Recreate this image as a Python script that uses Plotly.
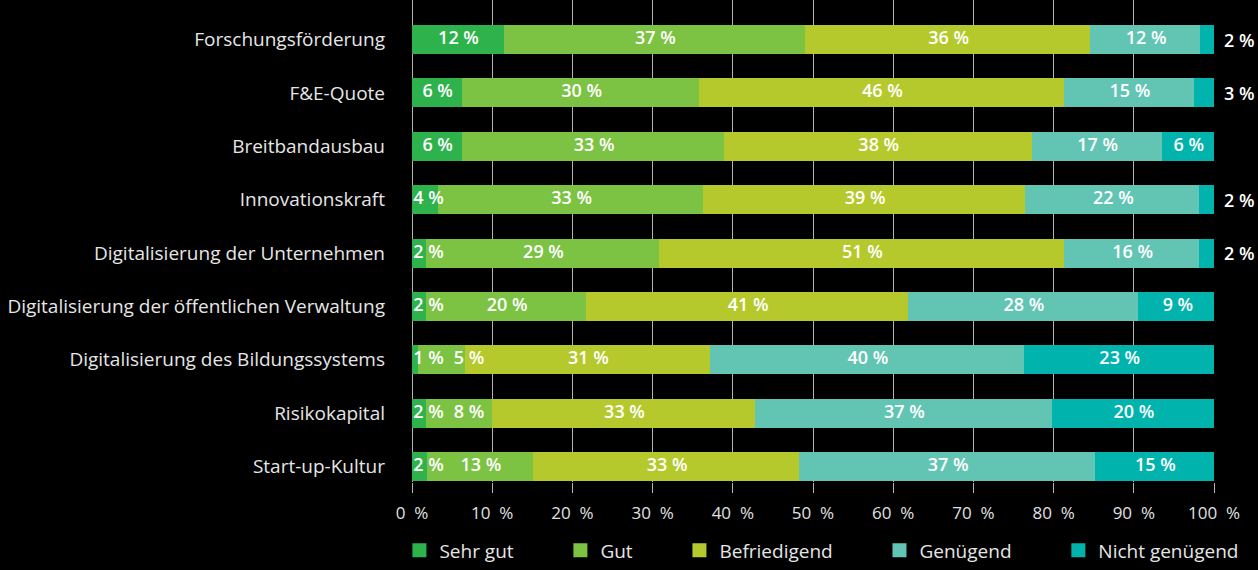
import plotly.graph_objects as go

categories = [
    "Forschungsförderung",
    "F&E-Quote",
    "Breitbandausbau",
    "Innovationskraft",
    "Digitalisierung der Unternehmen",
    "Digitalisierung der öffentlichen Verwaltung",
    "Digitalisierung des Bildungssystems",
    "Risikokapital",
    "Start-up-Kultur",
]

series_names = ["Sehr gut", "Gut", "Befriedigend", "Genügend", "Nicht genügend"]

# bar lengths (%)
sehr_gut = [11.6, 6.4, 6.4, 3.4, 1.9, 1.9, 0.9, 1.9, 2.0]
gut = [37.5, 29.5, 32.6, 33.0, 29.0, 19.9, 5.8, 8.2, 13.2]
befriedigend = [35.6, 45.5, 38.4, 40.2, 50.5, 40.2, 30.6, 32.8, 33.2]
genuegend = [13.7, 16.2, 16.2, 21.7, 16.9, 28.6, 39.1, 37.0, 36.9]
nicht_genuegend = [1.7, 2.5, 6.5, 1.7, 2.1, 9.8, 23.7, 20.2, 14.8]

# printed labels
lbl_sehr_gut = [12, 6, 6, 4, 2, 2, 1, 2, 2]
lbl_gut = [37, 30, 33, 33, 29, 20, 5, 8, 13]
lbl_befriedigend = [36, 46, 38, 39, 51, 41, 31, 33, 33]
lbl_genuegend = [12, 15, 17, 22, 16, 28, 40, 37, 37]
lbl_nicht_genuegend = [2, 3, 6, 2, 2, 9, 23, 20, 15]

x_ticks = [0, 10, 20, 30, 40, 50, 60, 70, 80, 90, 100]

colors = ["#2eb34c", "#7cc243", "#b5c92c", "#62c5b3", "#00b3ad"]

values = [sehr_gut, gut, befriedigend, genuegend, nicht_genuegend]
labels = [lbl_sehr_gut, lbl_gut, lbl_befriedigend, lbl_genuegend, lbl_nicht_genuegend]

FONT = "Open Sans"
NBSP = "\u00a0"
legend_pad = [11, 11, 11, 11, 0]

fig = go.Figure()
for name, vals, col, pad in zip(series_names, values, colors, legend_pad):
    fig.add_trace(go.Bar(
        y=categories, x=vals, name=name + NBSP * pad, orientation="h",
        marker=dict(color=col, line=dict(width=2, color=col)),
        hoverinfo="x+y",
    ))

# label placement (in axis units), avoiding overlaps for small segments
PX_PER_UNIT = 8.02
def text_w(s):
    w = 0
    for ch in s:
        if ch.isdigit():
            w += 10.4
        elif ch == " ":
            w += 4.8
        elif ch == "%":
            w += 15.6
    return w / PX_PER_UNIT

tx, ty, tt = [], [], []
annotations = []
gap = 1.2
for i, cat in enumerate(categories):
    start = 0.0
    prev_right = None
    for s in range(5):
        v = values[s][i]
        txt = f"{labels[s][i]} %"
        w = text_w(txt)
        if s == 4 and v < 4:
            end = min(start + v, 100)
            annotations.append(dict(
                x=end, y=cat, xref="x", yref="y", text=txt,
                showarrow=False, xanchor="left", yanchor="middle", xshift=8,
                font=dict(family=FONT, size=18, color="#ffffff", weight=600),
            ))
        else:
            center = start + v / 2
            left = center - w / 2
            if prev_right is None:
                left = max(left, 0.15)
            else:
                left = max(left, prev_right + gap)
            tx.append(left + w / 2)
            ty.append(cat)
            tt.append(txt)
            prev_right = left + w
        start += v

fig.add_trace(go.Scatter(
    x=tx, y=ty, text=tt, mode="text", textposition="middle center",
    textfont=dict(family=FONT, size=18, color="#ffffff", weight=600),
    showlegend=False, hoverinfo="skip", cliponaxis=False,
))

fig.update_layout(
    width=1258, height=570,
    barmode="stack", bargap=0.494,
    paper_bgcolor="#000000", plot_bgcolor="#000000",
    margin=dict(l=412, r=44, t=0, b=88),
    font=dict(family=FONT, color="#e6e6e6"),
    showlegend=True,
    annotations=annotations,
    legend=dict(
        orientation="h", x=-0.0001, xanchor="left", indentation=-12.5,
        y=(482 - 569.5) / 482, yanchor="bottom",
        font=dict(family=FONT, size=19, color="#e6e6e6"),
        bgcolor="rgba(0,0,0,0)", traceorder="normal",
    ),
)

fig.update_xaxes(
    range=[0, 100], tickvals=x_ticks,
    ticktext=[f"{t}{NBSP}{NBSP}%" for t in x_ticks],
    showgrid=True, gridcolor="#b4b4b4", gridwidth=1,
    zeroline=True, zerolinecolor="#b4b4b4", zerolinewidth=1,
    showline=False, ticks="outside", ticklen=10, tickcolor="#b4b4b4",
    tickfont=dict(family=FONT, size=17, color="#e0e0e0"),
    ticklabelstandoff=6, fixedrange=True,
)
fig.update_yaxes(
    categoryorder="array", categoryarray=categories,
    range=[8.29, -0.74], showgrid=False, zeroline=False, showline=False,
    ticks="", tickfont=dict(family=FONT, size=19, color="#e6e6e6"),
    ticklabelstandoff=26, fixedrange=True,
)

fig.write_html(
    "out.html",
    config={"displayModeBar": False},
    post_script="document.body.style.margin='0';document.body.style.background='#000';",
)
